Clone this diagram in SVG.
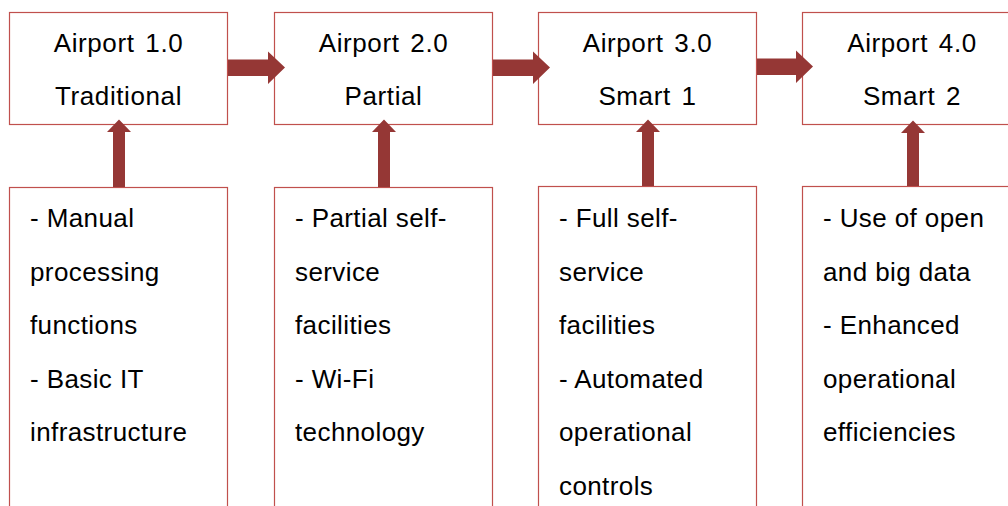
<svg xmlns="http://www.w3.org/2000/svg" width="1008" height="506" viewBox="0 0 1008 506">
  <style>
    .box { fill: #ffffff; stroke: #c0504d; stroke-width: 1.2; }
    .arrow { fill: #953735; }
    .t { font-family: "Liberation Sans", Arial, sans-serif; font-size: 26px; fill: #000000; letter-spacing: 0.4px; }
    .c { text-anchor: middle; letter-spacing: 0.6px; word-spacing: 3px; }
  </style>
  <rect width="1008" height="506" fill="#ffffff"/>

  <!-- stage boxes -->
  <g id="stage1">
    <rect class="box" x="9.5" y="12.5" width="218" height="112"/>
    <text class="t c" x="118.5" y="52">Airport 1.0</text>
    <text class="t c" x="118.5" y="105">Traditional</text>
  </g>
  <g id="stage2">
    <rect class="box" x="274.5" y="12.5" width="218" height="112"/>
    <text class="t c" x="383.5" y="52">Airport 2.0</text>
    <text class="t c" x="383.5" y="105">Partial</text>
  </g>
  <g id="stage3">
    <rect class="box" x="538.5" y="12.5" width="218" height="112"/>
    <text class="t c" x="647.5" y="52">Airport 3.0</text>
    <text class="t c" x="647.5" y="105">Smart 1</text>
  </g>
  <g id="stage4">
    <rect class="box" x="802.5" y="12.5" width="218" height="112"/>
    <text class="t c" x="912" y="52">Airport 4.0</text>
    <text class="t c" x="912" y="105">Smart 2</text>
  </g>

  <!-- feature boxes -->
  <g id="features1">
    <rect class="box" x="9.5" y="187.5" width="218" height="340"/>
    <text class="t" x="30" y="227">- Manual</text>
    <text class="t" x="30" y="280.5">processing</text>
    <text class="t" x="30" y="334">functions</text>
    <text class="t" x="30" y="387.5">- Basic IT</text>
    <text class="t" x="30" y="441">infrastructure</text>
  </g>
  <g id="features2">
    <rect class="box" x="274.5" y="187.5" width="218" height="340"/>
    <text class="t" x="295" y="227">- Partial self-</text>
    <text class="t" x="295" y="280.5">service</text>
    <text class="t" x="295" y="334">facilities</text>
    <text class="t" x="295" y="387.5">- Wi-Fi</text>
    <text class="t" x="295" y="441">technology</text>
  </g>
  <g id="features3">
    <rect class="box" x="538.5" y="186.5" width="218" height="340"/>
    <text class="t" x="559" y="227">- Full self-</text>
    <text class="t" x="559" y="280.5">service</text>
    <text class="t" x="559" y="334">facilities</text>
    <text class="t" x="559" y="387.5">- Automated</text>
    <text class="t" x="559" y="441">operational</text>
    <text class="t" x="559" y="495">controls</text>
  </g>
  <g id="features4">
    <rect class="box" x="802.5" y="186.5" width="218" height="340"/>
    <text class="t" x="823" y="227">- Use of open</text>
    <text class="t" x="823" y="280.5">and big data</text>
    <text class="t" x="823" y="334">- Enhanced</text>
    <text class="t" x="823" y="387.5">operational</text>
    <text class="t" x="823" y="441">efficiencies</text>
  </g>

  <!-- block arrows -->
  <g id="connectors">
    <polygon class="arrow" points="228,59.5 268,59.5 268,51.5 285,67.5 268,84 268,76 228,76"/>
    <polygon class="arrow" points="493,59.5 533,59.5 533,51.5 550,67.5 533,84 533,76 493,76"/>
    <polygon class="arrow" points="757,58.5 796,58.5 796,50.5 813,66.5 796,83 796,75 757,75"/>

    <polygon class="arrow" points="113,187 113,132 107,132 119,119.5 131,132 125,132 125,187"/>
    <polygon class="arrow" points="378,187 378,132 372,132 384,119.5 396,132 390,132 390,187"/>
    <polygon class="arrow" points="642,186 642,132 636,132 648,119.5 660,132 654,132 654,186"/>
    <polygon class="arrow" points="907,186 907,133 901,133 913,120.5 925,133 919,133 919,186"/>
  </g>
</svg>
